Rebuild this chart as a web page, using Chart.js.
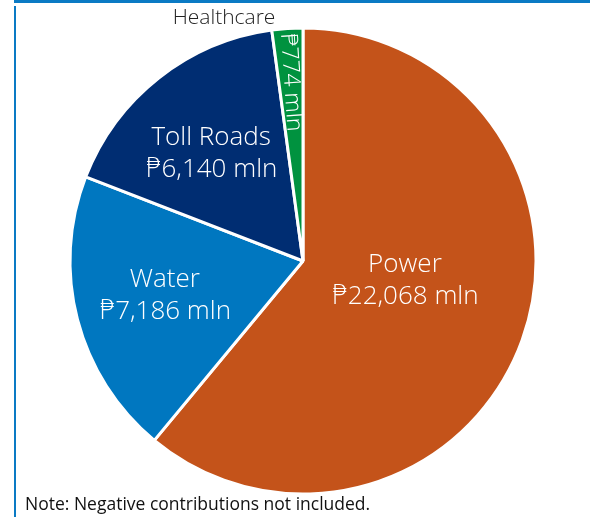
<!DOCTYPE html>
<html>
<head>
<meta charset="utf-8">
<script src="https://cdn.jsdelivr.net/npm/chart.js@4/dist/chart.umd.min.js"></script>
<style>
  html, body { margin: 0; padding: 0; background: #fff; }
  .frame { position: relative; width: 590px; height: 517px; overflow: hidden; }
  .topbar { position: absolute; left: 14px; top: 0; width: 576px; height: 3px; background: #0a7ac4; }
  .leftbar { position: absolute; left: 14px; top: 6px; width: 2px; height: 511px; background: #0a7ac4; }
  canvas { position: absolute; left: 0; top: 0; }
</style>
</head>
<body>
<div class="frame">
  <div class="topbar"></div>
  <div class="leftbar"></div>
  <canvas id="pie" width="590" height="517"></canvas>
</div>
<script>
const sectors = ['Power', 'Water', 'Toll Roads', 'Healthcare'];
const contributions = [22068, 7186, 6140, 774]; // PHP million
const sectorColors = ['#c4531a', '#0077c0', '#002d72', '#00923f'];
const noteText = 'Note: Negative contributions not included.';

// label placement: fraction of radius, angle nudge (deg), rotated?
const labelPlace = [
  { r: 0.445, nudge: -9.3 },
  { r: 0.61, nudge: 1 },
  { r: 0.61, nudge: -2 },
  { r: 0.77, nudge: 0, rotate: true }
];

const fmt = v => '\u20b1' + v.toLocaleString('en-US') + ' mln';
const FONT = '"Open Sans", "DejaVu Sans", sans-serif';

const sliceLabels = {
  id: 'sliceLabels',
  afterDatasetsDraw(chart) {
    const ctx = chart.ctx;
    const meta = chart.getDatasetMeta(0);
    meta.data.forEach((arc, i) => {
      const p = labelPlace[i];
      const mid = (arc.startAngle + arc.endAngle) / 2 + p.nudge * Math.PI / 180;
      const rr = arc.outerRadius * p.r;
      const x = arc.x + Math.cos(mid) * rr;
      const y = arc.y + Math.sin(mid) * rr;
      ctx.save();
      ctx.fillStyle = '#fff';
      ctx.textAlign = 'center';
      ctx.textBaseline = 'middle';
      if (p.rotate) {
        ctx.translate(x, y);
        ctx.rotate(mid + Math.PI);
        ctx.font = '300 23px ' + FONT;
        ctx.fillText(fmt(contributions[i]), 0, 0);
        ctx.restore();
        // category name outside, above the slice
        ctx.save();
        ctx.fillStyle = '#222';
        ctx.font = '300 21px ' + FONT;
        ctx.textAlign = 'center';
        ctx.textBaseline = 'middle';
        ctx.fillText(sectors[i], 224, 18);
      } else {
        ctx.font = '300 26px ' + FONT;
        ctx.fillText(sectors[i], x, y - 15);
        ctx.fillText(fmt(contributions[i]), x, y + 17);
      }
      ctx.restore();
    });
    ctx.save();
    ctx.fillStyle = '#111';
    ctx.font = '17.5px ' + FONT;
    ctx.textBaseline = 'middle';
    ctx.fillText(noteText, 25, 505);
    ctx.restore();
  }
};

new Chart(document.getElementById('pie'), {
  type: 'pie',
  data: {
    labels: sectors,
    datasets: [{
      data: contributions,
      backgroundColor: sectorColors,
      borderColor: '#fff',
      borderWidth: 3,
      hoverOffset: 0,
      radius: 233
    }]
  },
  options: {
    responsive: false,
    animation: false,
    layout: { padding: { left: 70, right: 54, top: 28, bottom: 23 } },
    plugins: {
      legend: { display: false },
      tooltip: { enabled: false }
    }
  },
  plugins: [sliceLabels]
});
</script>
</body>
</html>
